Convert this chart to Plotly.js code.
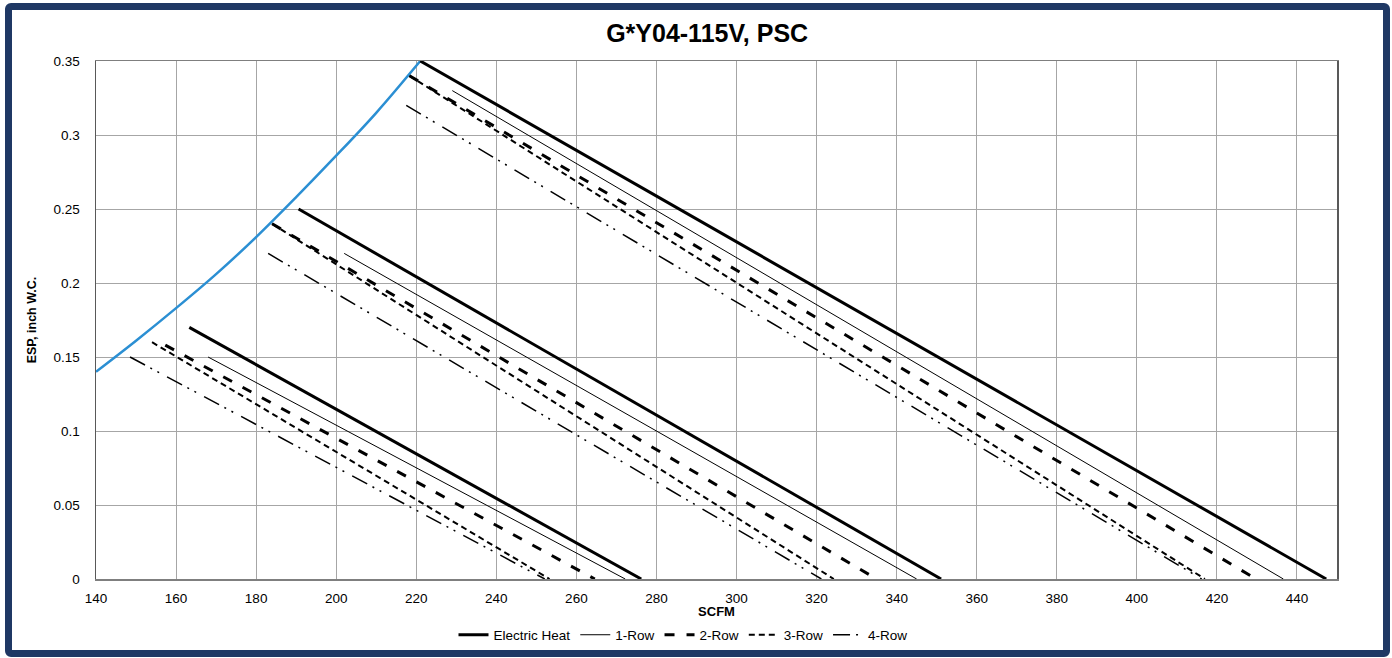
<!DOCTYPE html>
<html>
<head>
<meta charset="utf-8">
<script src="https://cdn.plot.ly/plotly-3.0.1.min.js"></script>
<style>
  html, body { margin: 0; padding: 0; background: #ffffff; }
  #wrap { position: relative; width: 1392px; height: 658px; }
  #chart { position: absolute; left: 0; top: 0; width: 1392px; height: 658px; }
  #frame { position: absolute; left: 5px; top: 3px; width: 1371px; height: 640px;
           border: 7px solid #1F3864; border-radius: 6px; pointer-events: none; }
</style>
</head>
<body>
<div id="wrap">
  <div id="chart"></div>
  <div id="frame"></div>
</div>
<script>
// ---- Data ----
const chartTitle = "G*Y04-115V, PSC";
const xTitle = "SCFM";
const yTitle = "ESP, inch W.C.";

// Fan limit curve
const limitX = [140, 150, 160, 170, 180, 190, 200, 210, 221];
const limitY = [0.14, 0.161, 0.183, 0.206, 0.231, 0.258, 0.286, 0.315, 0.35];

// Series: low speed, medium speed, high speed (null separates speeds)
const seriesNames = ["Electric Heat", "1-Row", "2-Row", "3-Row", "4-Row"];
const elecHeatX = [163.3, 276.2, null, 190.6, 351.1, null, 221.0, 447.3];
const elecHeatY = [0.17, 0, null, 0.25, 0, null, 0.35, 0];
const row1X = [168.0, 272.2, null, 202.0, 345.0, null, 229.0, 436.6];
const row1Y = [0.15, 0, null, 0.22, 0, null, 0.33, 0];
const row2X = [157.3, 264.6, null, 184.0, 335.0, null, 218.3, 429.8];
const row2Y = [0.158, 0, null, 0.24, 0, null, 0.34, 0];
const row3X = [154.0, 253.3, null, 184.0, 324.3, null, 218.3, 417.0];
const row3Y = [0.16, 0, null, 0.24, 0, null, 0.34, 0];
const row4X = [148.5, 252.1, null, 183.0, 321.2, null, 217.5, 416.2];
const row4Y = [0.15, 0, null, 0.22, 0, null, 0.32, 0];

const xTicks = [140, 160, 180, 200, 220, 240, 260, 280, 300, 320, 340, 360, 380, 400, 420, 440];
const yTicks = [0, 0.05, 0.1, 0.15, 0.2, 0.25, 0.3, 0.35];
const yTickText = ["0", "0.05", "0.1", "0.15", "0.2", "0.25", "0.3", "0.35"];

const FONT = "Liberation Sans, Arial, sans-serif";

const traces = [
  { x: limitX, y: limitY, mode: "lines", showlegend: false, hoverinfo: "skip",
    line: { color: "#2B8FD3", width: 2.5, shape: "spline" } },
  { x: elecHeatX, y: elecHeatY, name: seriesNames[0], mode: "lines",
    line: { color: "#000000", width: 3 } },
  { x: row1X, y: row1Y, name: seriesNames[1], mode: "lines",
    line: { color: "#000000", width: 1 } },
  { x: row2X, y: row2Y, name: seriesNames[2], mode: "lines",
    line: { color: "#000000", width: 3, dash: "10px,12px" } },
  { x: row3X, y: row3Y, name: seriesNames[3], mode: "lines",
    line: { color: "#000000", width: 2, dash: "6px,4px" } },
  { x: row4X, y: row4Y, name: seriesNames[4], mode: "lines",
    line: { color: "#000000", width: 1.5, dash: "17px,6px,2px,6px,2px,9px" } }
];

const layout = {
  width: 1392, height: 658,
  margin: { l: 96, r: 55, t: 61, b: 79 },
  paper_bgcolor: "#ffffff", plot_bgcolor: "#ffffff",
  font: { family: FONT, size: 13, color: "#000000" },
  title: { text: "<b>" + chartTitle + "</b>", font: { family: FONT, size: 25, color: "#000000" },
           xref: "container", x: 0.508, xanchor: "center", yref: "container", y: 0.95, yanchor: "middle" },
  xaxis: {
    range: [140, 450], tickvals: xTicks, ticktext: xTicks.map(String),
    showgrid: true, gridcolor: "#A6A6A6", gridwidth: 1,
    showline: true, linecolor: "#7F7F7F", linewidth: 1.5, mirror: true,
    zeroline: false, ticks: "", ticklabelstandoff: 6, automargin: false,
    tickfont: { family: FONT, size: 13.5, color: "#000000" },
    title: { text: "<b>" + xTitle + "</b>", font: { family: FONT, size: 13, color: "#000000" }, standoff: 11 }
  },
  yaxis: {
    range: [0, 0.35], tickvals: yTicks, ticktext: yTickText,
    showgrid: true, gridcolor: "#A6A6A6", gridwidth: 1,
    showline: true, linecolor: "#595959", linewidth: 1.5, mirror: true,
    zeroline: false, ticks: "", ticklabelstandoff: 12, automargin: false,
    tickfont: { family: FONT, size: 13.5, color: "#000000" },
    title: { text: "<b>" + yTitle + "</b>", font: { family: FONT, size: 12.5, color: "#000000" }, standoff: 14 }
  },
  showlegend: true,
  legend: {
    orientation: "h", x: 0.473, xanchor: "center",
    yref: "container", y: 0.035, yanchor: "middle",
    font: { family: FONT, size: 13.5, color: "#000000" },
    bgcolor: "rgba(0,0,0,0)", itemwidth: 30, tracegroupgap: 0
  }
};

Plotly.newPlot("chart", traces, layout, { displayModeBar: false, staticPlot: true });
</script>
</body>
</html>
